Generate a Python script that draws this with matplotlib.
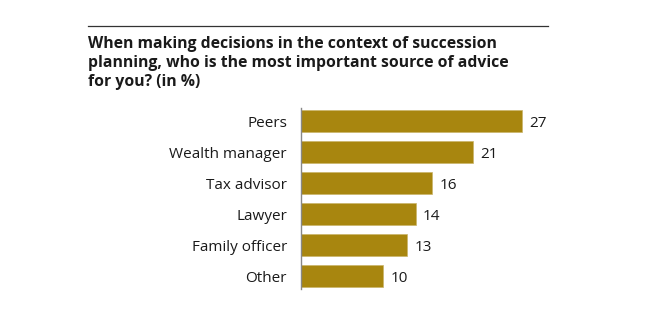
import matplotlib
matplotlib.use("Agg")
import matplotlib.pyplot as plt

# data, top to bottom
categories = ["Peers", "Wealth manager", "Tax advisor", "Lawyer", "Family officer", "Other"]
values = [27, 21, 16, 14, 13, 10]

title = ("When making decisions in the context of succession\n"
         "planning, who is the most important source of advice\n"
         "for you? (in %)")

bar_color = "#A8860F"
text_color = "#1a1a1a"

plt.rcParams["font.family"] = ["Open Sans", "DejaVu Sans"]

fig = plt.figure(figsize=(6.46, 3.17), dpi=100)
fig.patch.set_facecolor("white")

# rule above the title
fig.add_artist(plt.Line2D([88 / 646, 548 / 646], [1 - 26 / 317, 1 - 26 / 317],
                          color="#333333", lw=0.9))
fig.text(88 / 646, 1 - 36 / 317, title, ha="left", va="top", fontsize=11.3,
         fontweight="bold", color=text_color, linespacing=1.25)

ax = fig.add_axes([301 / 646, 0.080, 245.6 / 646, 0.587])
pos = list(range(len(categories)))
ax.barh(pos, values, height=0.71, color=bar_color, edgecolor="#c9b46a", linewidth=0.5)
for p, v in zip(pos, values):
    ax.text(v + 0.9, p, str(v), va="center_baseline", ha="left", fontsize=11, color=text_color)

ax.set_xlim(0, 30)
ax.set_ylim(len(categories) - 0.5, -0.5)
ax.set_yticks(pos)
ax.set_yticklabels(categories, fontsize=11, color=text_color)
ax.tick_params(axis="y", length=0, pad=10)
ax.set_xticks([])
for s in ["top", "right", "bottom"]:
    ax.spines[s].set_visible(False)
ax.spines["left"].set_color("#888888")
ax.spines["left"].set_linewidth(1.0)
ax.spines["left"].set_bounds(-0.42, len(categories) - 0.6)

fig.savefig("out.png", dpi=100)
